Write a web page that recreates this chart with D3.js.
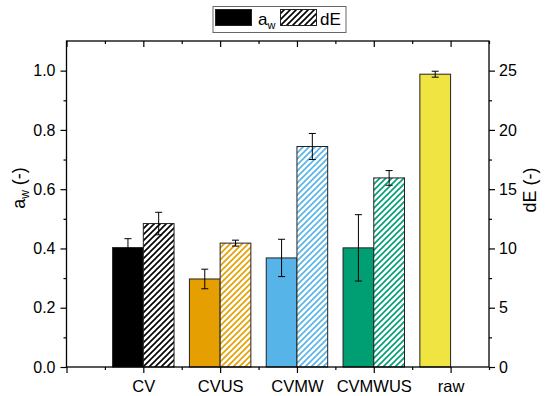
<!DOCTYPE html>
<html><head><meta charset="utf-8">
<script src="https://cdn.jsdelivr.net/npm/d3@7"></script>
<style>body{margin:0;background:#fff}svg{font-family:"Liberation Sans",Arial,sans-serif}</style>
</head><body>
<svg id="c" width="550" height="396"></svg>
<script>
const categories = ["CV","CVUS","CVMW","CVMWUS","raw"];
const colors = ["#000000","#E69F00","#56B4E9","#009E73","#F0E442"];
const awValues = [0.403, 0.297, 0.368, 0.402, 0.988];
const awErrors = [0.030, 0.033, 0.063, 0.112, 0.010];
const dEValues = [12.1, 10.45, 18.6, 15.95, null];
const dEErrors = [0.95, 0.25, 1.1, 0.62, null];
const awTicks = [0, 0.2, 0.4, 0.6, 0.8, 1.0];
const dETicks = [0, 5, 10, 15, 20, 25];

const svg = d3.select("#c");
const L = 66.5, R = 489, T = 41, B = 367;
const x = d3.scaleLinear().domain([0, 5.5]).range([L, R]);
const yA = d3.scaleLinear().domain([0, 1.1]).range([B, T]);
const yD = d3.scaleLinear().domain([0, 27.5]).range([B, T]);
const bw = x(0.4) - x(0);

const defs = svg.append("defs");
colors.forEach((c, i) => {
  const p = defs.append("pattern").attr("id", "h" + i).attr("patternUnits", "userSpaceOnUse")
    .attr("width", 6).attr("height", 6);
  p.append("rect").attr("width", 6).attr("height", 6).attr("fill", "#fff");
  p.append("path").attr("d", "M0,6L6,0M-1.5,1.5L1.5,-1.5M4.5,7.5L7.5,4.5")
    .attr("stroke", c).attr("stroke-width", 1.6);
});

const g = svg.append("g");
categories.forEach((c, i) => {
  const cx = x(i + 1);
  g.append("rect").attr("x", cx - bw).attr("y", yA(awValues[i])).attr("width", bw)
    .attr("height", yA(0) - yA(awValues[i])).attr("fill", colors[i]).attr("stroke", "#222").attr("stroke-width", 1);
  if (dEValues[i] != null) {
    g.append("rect").attr("x", cx).attr("y", yD(dEValues[i])).attr("width", bw)
      .attr("height", yD(0) - yD(dEValues[i])).attr("fill", "url(#h" + i + ")").attr("stroke", "#222").attr("stroke-width", 1);
  }
});
function err(xc, y1, y2) {
  g.append("line").attr("x1", xc).attr("x2", xc).attr("y1", y1).attr("y2", y2).attr("stroke", "#000").attr("stroke-width", 1);
  [y1, y2].forEach(yy => g.append("line").attr("x1", xc - 3.5).attr("x2", xc + 3.5).attr("y1", yy).attr("y2", yy).attr("stroke", "#000").attr("stroke-width", 1));
}
categories.forEach((c, i) => {
  const cx = x(i + 1);
  err(cx - bw / 2, yA(awValues[i] + awErrors[i]), yA(awValues[i] - awErrors[i]));
  if (dEValues[i] != null) err(cx + bw / 2, yD(dEValues[i] + dEErrors[i]), yD(dEValues[i] - dEErrors[i]));
});

const fs = "16px";
const xMajor = d3.range(0, 6);
const xMinor = d3.range(0.5, 6, 1);
const axB = svg.append("g").attr("transform", `translate(0,${B})`)
  .call(d3.axisBottom(x).tickValues(xMajor).tickSize(6).tickFormat(d => d >= 1 ? categories[d - 1] : ""));
axB.selectAll(".tick text").attr("font-size", "16.5px").attr("dy", "0.95em").attr("fill", "#000");
svg.append("g").attr("transform", `translate(0,${B})`).call(d3.axisBottom(x).tickValues(xMinor).tickSize(3).tickFormat(""));
svg.append("g").attr("transform", `translate(0,${T})`)
  .call(d3.axisBottom(x).tickValues(xMajor).tickSize(6).tickFormat(""));
svg.append("g").attr("transform", `translate(0,${T})`).call(d3.axisBottom(x).tickValues(xMinor).tickSize(3).tickFormat(""));

const axL = svg.append("g").attr("transform", `translate(${L},0)`)
  .call(d3.axisLeft(yA).tickValues(awTicks).tickSize(6).tickPadding(5).tickFormat(d3.format(".1f")));
axL.selectAll(".tick text").attr("font-size", fs).attr("fill", "#000");
svg.append("g").attr("transform", `translate(${L},0)`).call(d3.axisLeft(yA).tickValues(d3.range(0.1, 1.1, 0.2)).tickSize(3).tickFormat(""));
const axR = svg.append("g").attr("transform", `translate(${R},0)`)
  .call(d3.axisRight(yD).tickValues(dETicks).tickSize(6).tickPadding(4));
axR.selectAll(".tick text").attr("font-size", fs).attr("fill", "#000");
svg.append("g").attr("transform", `translate(${R},0)`).call(d3.axisRight(yD).tickValues(d3.range(2.5, 27.5, 5)).tickSize(3).tickFormat(""));

svg.selectAll(".tick line").attr("stroke", "#000").attr("stroke-width", 1.2);
svg.selectAll(".domain").remove();
svg.append("rect").attr("x", L).attr("y", T).attr("width", R - L).attr("height", B - T)
  .attr("fill", "none").attr("stroke", "#000").attr("stroke-width", 1.3);

const tl = svg.append("text").attr("transform", "translate(25,188) rotate(-90)").attr("text-anchor", "middle").attr("font-size", "18px");
tl.append("tspan").text("a");
tl.append("tspan").attr("font-size", "12px").attr("dy", "4").text("w");
tl.append("tspan").attr("dy", "-4").text(" (-)");
svg.append("text").attr("transform", "translate(536,190) rotate(-90)").attr("text-anchor", "middle").attr("font-size", "18px").text("dE (-)");

const lg = svg.append("g");
lg.append("rect").attr("x", 213).attr("y", 6.5).attr("width", 133).attr("height", 26).attr("fill", "#fff").attr("stroke", "#666").attr("stroke-width", 1);
lg.append("rect").attr("x", 215.5).attr("y", 9.5).attr("width", 36).attr("height", 16).attr("fill", "#000").attr("stroke", "#222");
const la = lg.append("text").attr("x", 258).attr("y", 25).attr("font-size", "17px");
la.append("tspan").text("a");
la.append("tspan").attr("font-size", "11px").attr("dy", "4").text("w");
lg.append("rect").attr("x", 280.5).attr("y", 9.5).attr("width", 36).attr("height", 16).attr("fill", "url(#h0)").attr("stroke", "#222");
lg.append("text").attr("x", 320).attr("y", 25).attr("font-size", "17px").text("dE");
</script>
</body></html>
